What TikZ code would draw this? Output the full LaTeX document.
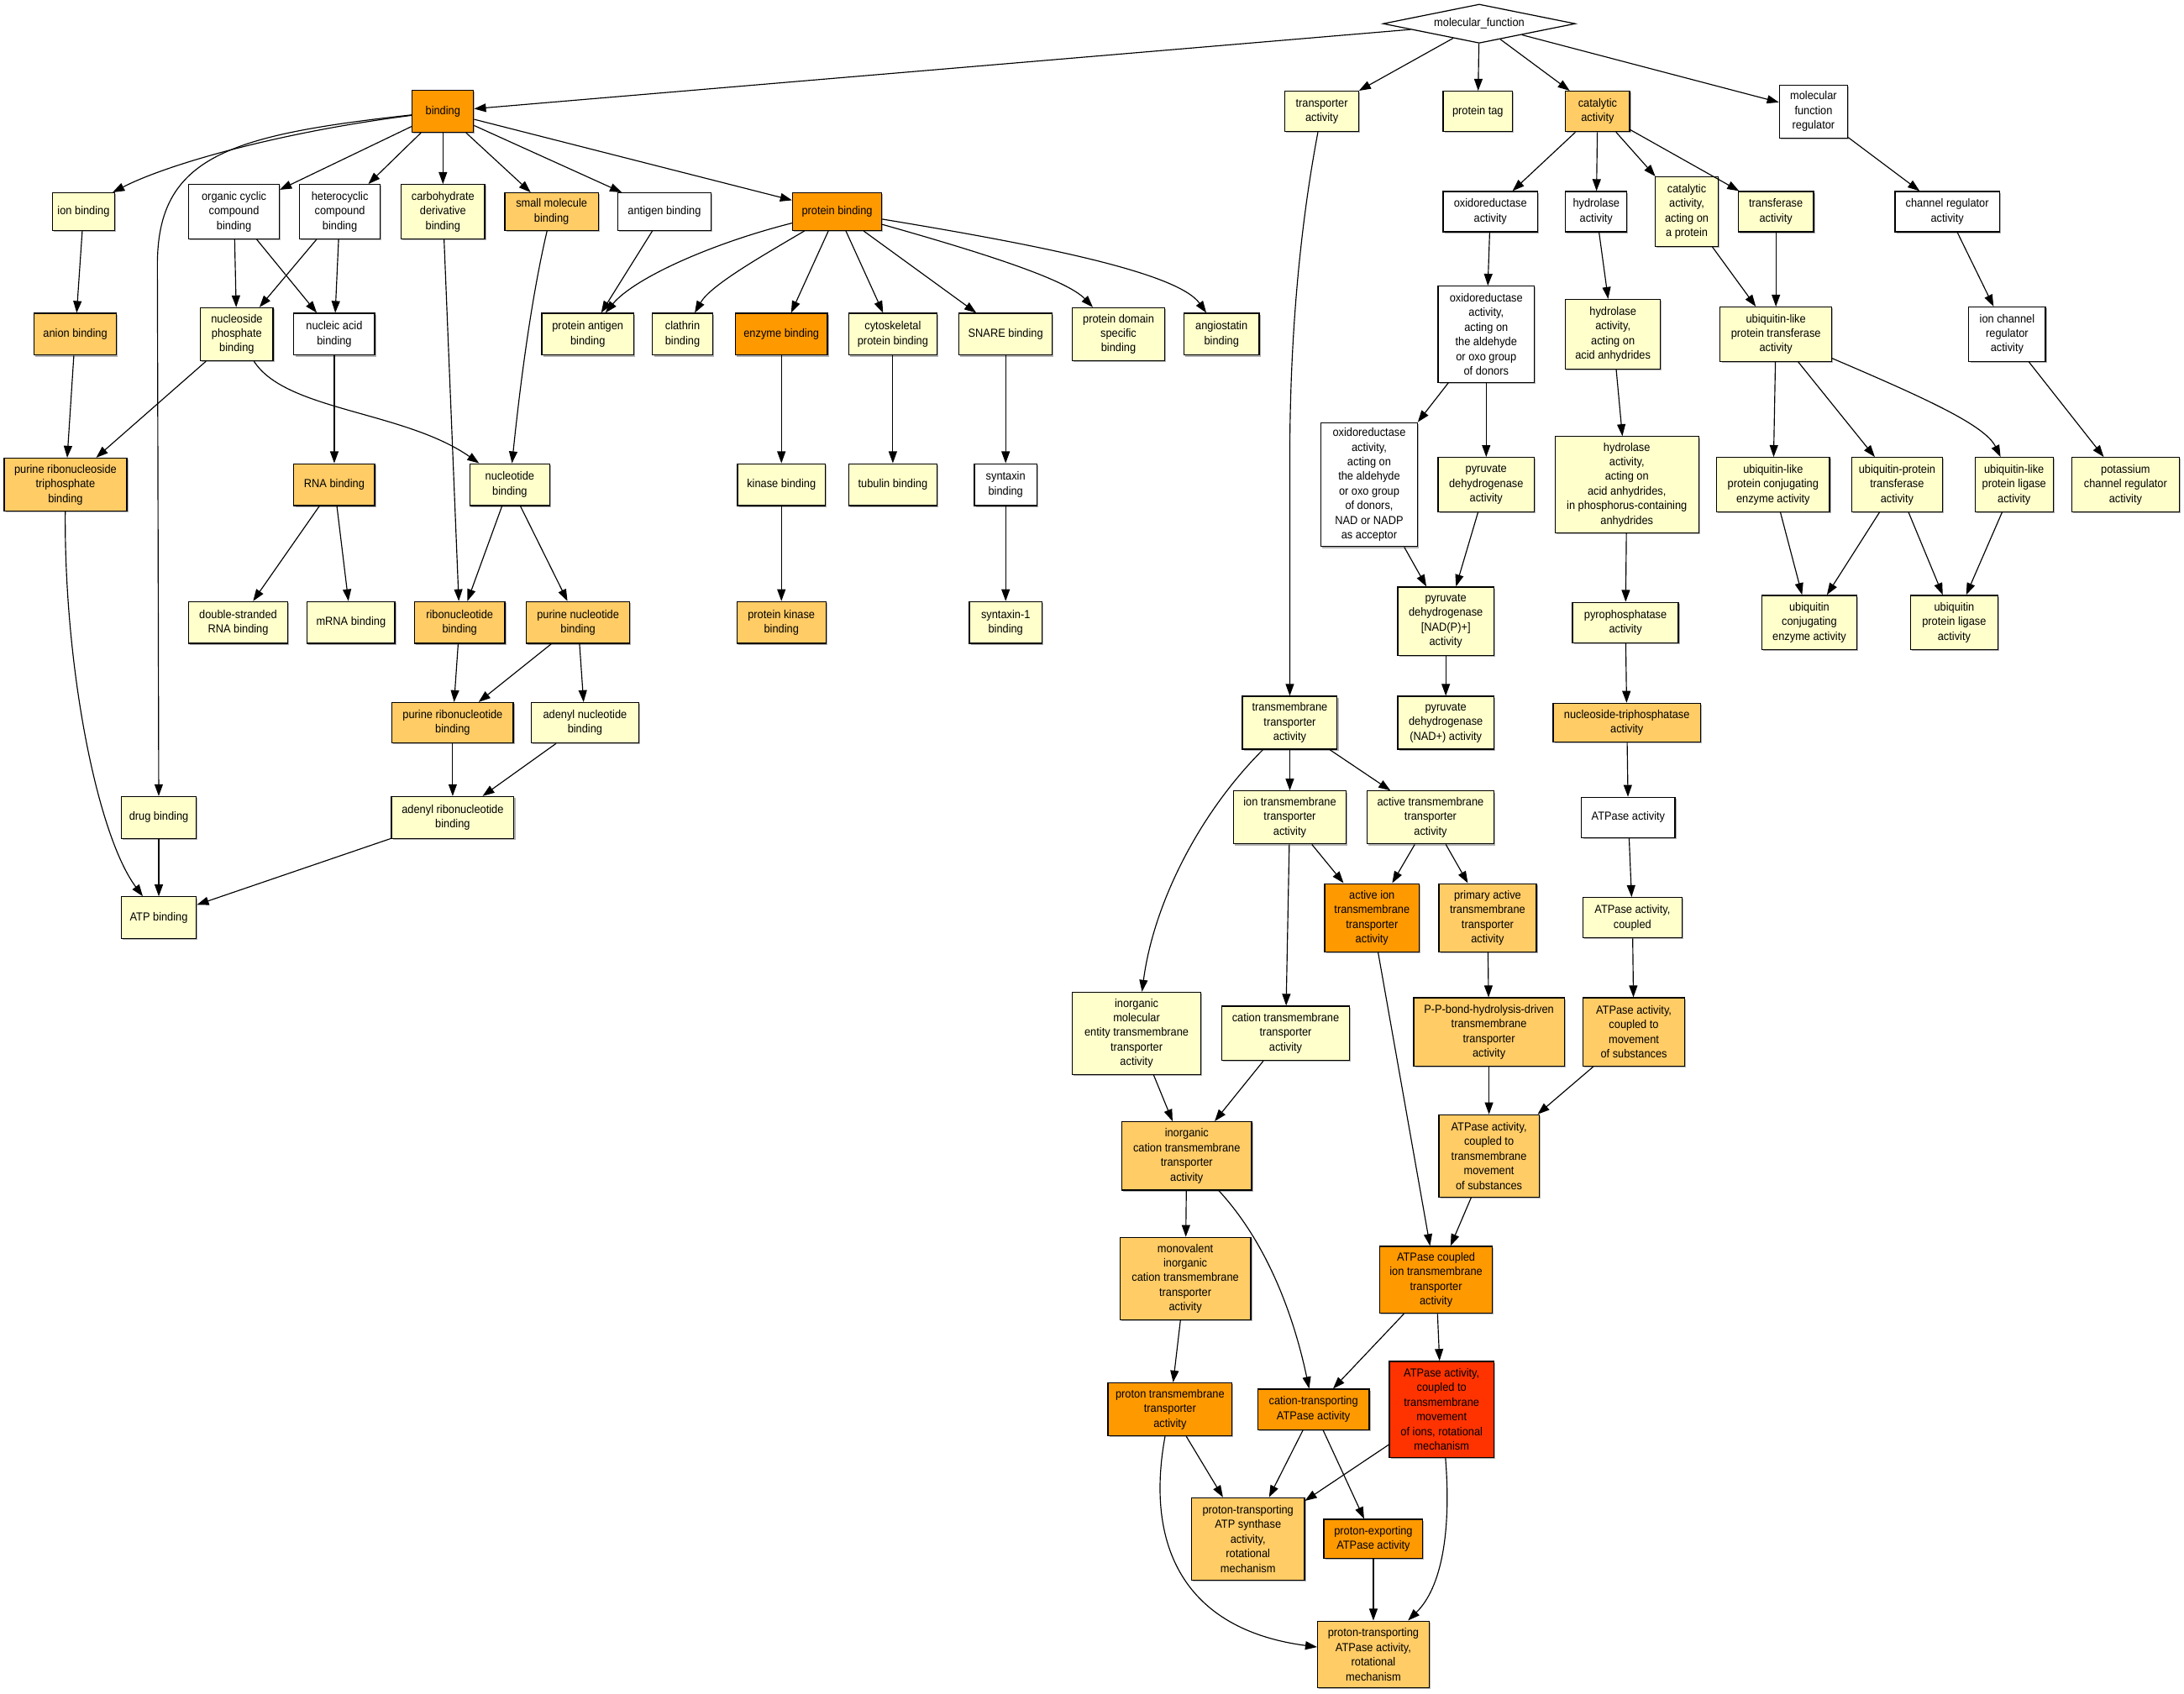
\documentclass[tikz,border=0pt]{standalone}
\usepackage{fontspec}
\setmainfont{Liberation Sans}[FakeStretch=0.92]
\usetikzlibrary{arrows.meta,shapes.geometric,shadows}
\definecolor{goyel}{HTML}{FFFFCC}
\definecolor{golor}{HTML}{FFCC66}
\definecolor{goor}{HTML}{FF9900}
\definecolor{gored}{HTML}{FF3300}
\newcommand\gofont{\fontsize{8.4}{10.5}\selectfont}
\newcommand\gonode[7]{\node[box,fill=#1,minimum width=#2pt,minimum height=#3pt] (#4) at (#5,-#6) {#7};}
\begin{document}
\begin{tikzpicture}[x=1pt,y=1pt,
  box/.style={draw=black,line width=0.75pt,inner sep=0pt,align=center,font=\gofont,
    drop shadow={shadow xshift=1pt,shadow yshift=-1pt,fill=black!30,opacity=1}},
  arr/.style={draw=black,line width=0.7pt,-{Triangle[length=8.5pt,width=6pt]}}]
\useasboundingbox (0,0) rectangle (1568,-1216);
\fill[white] (0,0) rectangle (1568,-1216);

\node[diamond,draw=black,aspect=4.9,minimum width=138pt,minimum height=28pt,inner sep=0pt,font=\gofont,line width=0.75pt,fill=white] (mf) at (1062,-17) {molecular\_function};

% row 1
\gonode{goor}{44}{30}{binding}{318}{80}{binding}
\gonode{goyel}{53}{29}{transp}{949}{80}{transporter\\activity}
\gonode{goyel}{50}{29}{ptag}{1061}{80}{protein tag}
\gonode{golor}{46}{29}{catal}{1147}{80}{catalytic\\activity}
\gonode{white}{49}{38}{mfreg}{1302}{80}{molecular\\function\\regulator}

% binding children
\gonode{goyel}{45}{27}{ionb}{60}{152}{ion binding}
\gonode{white}{65}{39}{orgcyc}{168}{152}{organic cyclic\\compound\\binding}
\gonode{white}{58}{39}{hetcyc}{244}{152}{heterocyclic\\compound\\binding}
\gonode{goyel}{60}{39}{carbo}{318}{152}{carbohydrate\\derivative\\binding}
\gonode{golor}{67}{27}{smallm}{396}{152}{small molecule\\binding}
\gonode{white}{67}{27}{antig}{477}{152}{antigen binding}
\gonode{goor}{64}{27}{protb}{601}{152}{protein binding}

\gonode{golor}{59}{30}{anion}{54}{240}{anion binding}
\gonode{goyel}{52}{38}{nucphos}{170}{240}{nucleoside\\phosphate\\binding}
\gonode{white}{58}{30}{nucac}{240}{240}{nucleic acid\\binding}
\gonode{goyel}{66}{30}{protant}{422}{240}{protein antigen\\binding}
\gonode{goyel}{43}{30}{clath}{490}{240}{clathrin\\binding}
\gonode{goor}{66}{30}{enzym}{561}{240}{enzyme binding}
\gonode{goyel}{63}{30}{cytosk}{641}{240}{cytoskeletal\\protein binding}
\gonode{goyel}{67}{30}{snare}{722}{240}{SNARE binding}
\gonode{goyel}{66}{38}{protdom}{803}{240}{protein domain\\specific\\binding}
\gonode{goyel}{54}{30}{angio}{877}{240}{angiostatin\\binding}

\gonode{golor}{88}{38}{prtp}{47}{348}{purine ribonucleoside\\triphosphate\\binding}
\gonode{golor}{58}{30}{rnab}{240}{348}{RNA binding}
\gonode{goyel}{57}{30}{nucb}{366}{348}{nucleotide\\binding}
\gonode{goyel}{63}{30}{kinb}{561}{348}{kinase binding}
\gonode{goyel}{63}{30}{tubb}{641}{348}{tubulin binding}
\gonode{white}{45}{30}{syntb}{722}{348}{syntaxin\\binding}

\gonode{goyel}{71}{30}{dsrna}{171}{447}{double-stranded\\RNA binding}
\gonode{goyel}{63}{30}{mrna}{252}{447}{mRNA binding}
\gonode{golor}{65}{30}{ribonuc}{330}{447}{ribonucleotide\\binding}
\gonode{golor}{74}{30}{purnuc}{415}{447}{purine nucleotide\\binding}
\gonode{golor}{64}{30}{protkin}{561}{447}{protein kinase\\binding}
\gonode{goyel}{52}{30}{synt1}{722}{447}{syntaxin-1\\binding}

\gonode{golor}{87}{29}{purribo}{325}{519}{purine ribonucleotide\\binding}
\gonode{goyel}{77}{29}{adenuc}{420}{519}{adenyl nucleotide\\binding}
\gonode{goyel}{54}{30}{drugb}{114}{587}{drug binding}
\gonode{goyel}{88}{30}{adenribo}{325}{587}{adenyl ribonucleotide\\binding}
\gonode{goyel}{54}{30}{atpb}{114}{659}{ATP binding}

% right side
\gonode{white}{68}{29}{oxido}{1070}{152}{oxidoreductase\\activity}
\gonode{white}{44}{29}{hydro}{1146}{152}{hydrolase\\activity}
\gonode{goyel}{45}{50}{catprot}{1211}{152}{catalytic\\activity,\\acting on\\a protein}
\gonode{goyel}{54}{29}{transf}{1275}{152}{transferase\\activity}
\gonode{white}{75}{29}{chanreg}{1398}{152}{channel regulator\\activity}

\gonode{white}{69}{69}{oxald}{1067}{240}{oxidoreductase\\activity,\\acting on\\the aldehyde\\or oxo group\\of donors}
\gonode{goyel}{68}{50}{hydanh}{1158}{240}{hydrolase\\activity,\\acting on\\acid anhydrides}
\gonode{goyel}{80}{39}{ubltr}{1275}{240}{ubiquitin-like\\protein transferase\\activity}
\gonode{white}{55}{39}{ionchreg}{1441}{240}{ion channel\\regulator\\activity}

\gonode{white}{69}{89}{nadp}{983}{348}{oxidoreductase\\activity,\\acting on\\the aldehyde\\or oxo group\\of donors,\\NAD or NADP\\as acceptor}
\gonode{goyel}{69}{39}{pdh}{1067}{348}{pyruvate\\dehydrogenase\\activity}
\gonode{goyel}{103}{69}{phosanh}{1168}{348}{hydrolase\\activity,\\acting on\\acid anhydrides,\\in phosphorus-containing\\anhydrides}
\gonode{goyel}{81}{39}{ublconj}{1273}{348}{ubiquitin-like\\protein conjugating\\enzyme activity}
\gonode{goyel}{65}{39}{ubprot}{1362}{348}{ubiquitin-protein\\transferase\\activity}
\gonode{goyel}{56}{39}{ubllig}{1446}{348}{ubiquitin-like\\protein ligase\\activity}
\gonode{goyel}{77}{39}{potas}{1526}{348}{potassium\\channel regulator\\activity}

\gonode{goyel}{69}{49}{pdhnadp}{1038}{446}{pyruvate\\dehydrogenase\\{}[NAD(P)+]\\activity}
\gonode{goyel}{76}{29}{pyroph}{1167}{447}{pyrophosphatase\\activity}
\gonode{goyel}{68}{39}{ubconj}{1299}{447}{ubiquitin\\conjugating\\enzyme activity}
\gonode{goyel}{63}{39}{ublig}{1403}{447}{ubiquitin\\protein ligase\\activity}

\gonode{goyel}{68}{38}{tmta}{926}{519}{transmembrane\\transporter\\activity}
\gonode{goyel}{69}{38}{pdhnad}{1038}{519}{pyruvate\\dehydrogenase\\(NAD+) activity}
\gonode{golor}{106}{28}{ntpase}{1168}{519}{nucleoside-triphosphatase\\activity}

\gonode{goyel}{81}{38}{iontm}{926}{587}{ion transmembrane\\transporter\\activity}
\gonode{goyel}{91}{38}{acttm}{1027}{587}{active transmembrane\\transporter\\activity}
\gonode{white}{67}{29}{atpase}{1169}{587}{ATPase activity}

\gonode{goor}{68}{49}{actiontm}{985}{659}{active ion\\transmembrane\\transporter\\activity}
\gonode{golor}{70}{49}{primact}{1068}{659}{primary active\\transmembrane\\transporter\\activity}
\gonode{goyel}{71}{29}{atpcoup}{1172}{659}{ATPase activity,\\coupled}

\gonode{goyel}{92}{59}{inorgmol}{816}{742}{inorganic\\molecular\\entity transmembrane\\transporter\\activity}
\gonode{goyel}{92}{39}{cationtm}{923}{742}{cation transmembrane\\transporter\\activity}
\gonode{golor}{108}{49}{ppbond}{1069}{741}{P-P-bond-hydrolysis-driven\\transmembrane\\transporter\\activity}
\gonode{golor}{73}{49}{atpmov}{1173}{741}{ATPase activity,\\coupled to\\movement\\of substances}

\gonode{golor}{93}{49}{inorgcat}{852}{830}{inorganic\\cation transmembrane\\transporter\\activity}
\gonode{golor}{72}{59}{atptmmov}{1069}{830}{ATPase activity,\\coupled to\\transmembrane\\movement\\of substances}

\gonode{golor}{94}{59}{monoval}{851}{918}{monovalent\\inorganic\\cation transmembrane\\transporter\\activity}
\gonode{goor}{81}{48}{atpion}{1031}{919}{ATPase coupled\\ion transmembrane\\transporter\\activity}

\gonode{goor}{89}{38}{protontm}{840}{1012}{proton transmembrane\\transporter\\activity}
\gonode{goor}{80}{29}{catatp}{943}{1012}{cation-transporting\\ATPase activity}
\gonode{gored}{75}{69}{rotmech}{1035}{1012}{ATPase activity,\\coupled to\\transmembrane\\movement\\of ions, rotational\\mechanism}

\gonode{golor}{81}{59}{synth}{896}{1105}{proton-transporting\\ATP synthase\\activity,\\rotational\\mechanism}
\gonode{goor}{71}{28}{protexp}{986}{1105}{proton-exporting\\ATPase activity}
\gonode{golor}{80}{48}{ptatp}{986}{1188}{proton-transporting\\ATPase activity,\\rotational\\mechanism}

% edges: left part
\draw[arr] (mf) -- (binding);
\draw[arr] (mf) -- (transp);
\draw[arr] (mf) -- (ptag);
\draw[arr] (mf) -- (catal);
\draw[arr] (mf) -- (mfreg);
\draw[arr] (binding) .. controls (200,-95) and (120,-118) .. ([xshift=-2pt]ionb.north east);
\draw[arr] (binding) .. controls (165,-97) and (113,-112) .. (113,-190) -- (drugb);
\draw[arr] (binding) -- (orgcyc);
\draw[arr] (binding) -- (hetcyc);
\draw[arr] (binding) -- (carbo);
\draw[arr] (binding) -- (smallm);
\draw[arr] (binding) -- (antig);
\draw[arr] (binding) -- (protb);
\draw[arr] (ionb) -- (anion);
\draw[arr] (anion) -- (prtp);
\draw[arr] (orgcyc) -- (nucphos);
\draw[arr] (orgcyc) -- (nucac);
\draw[arr] (hetcyc) -- (nucphos);
\draw[arr] (hetcyc) -- (nucac);
\draw[arr] (carbo) -- (ribonuc);
\draw[arr] (smallm) .. controls (380,-220) and (372,-290) .. (nucb);
\draw[arr] (antig) -- (protant);
\draw[arr] (protb) .. controls (510,-175) and (455,-200) .. (protant);
\draw[arr] (protb) .. controls (545,-185) and (510,-205) .. (clath);
\draw[arr] (protb) -- (enzym);
\draw[arr] (protb) -- (cytosk);
\draw[arr] (protb) -- (snare);
\draw[arr] (protb) .. controls (700,-180) and (765,-200) .. (protdom);
\draw[arr] (protb) .. controls (740,-175) and (845,-195) .. (angio);
\draw[arr] (nucphos) -- (prtp);
\draw[arr] (nucphos) .. controls (205,-295) and (290,-295) .. (nucb);
\draw[arr] (nucac) -- (rnab);
\draw[arr] (rnab) -- (dsrna);
\draw[arr] (rnab) -- (mrna);
\draw[arr] (nucb) -- (ribonuc);
\draw[arr] (nucb) -- (purnuc);
\draw[arr] (ribonuc) -- (purribo);
\draw[arr] (purnuc) -- (purribo);
\draw[arr] (purnuc) -- (adenuc);
\draw[arr] (purribo) -- (adenribo);
\draw[arr] (adenuc) -- (adenribo);
\draw[arr] (adenribo) -- (atpb);
\draw[arr] (drugb) -- (atpb);
\draw[arr] (prtp) .. controls (46,-480) and (70,-600) .. (atpb);
\draw[arr] (enzym) -- (kinb);
\draw[arr] (kinb) -- (protkin);
\draw[arr] (cytosk) -- (tubb);
\draw[arr] (snare) -- (syntb);
\draw[arr] (syntb) -- (synt1);

% edges: right part
\draw[arr] (transp) .. controls (932,-170) and (926,-250) .. (926,-330) -- (tmta);
\draw[arr] (catal) -- (oxido);
\draw[arr] (catal) -- (hydro);
\draw[arr] (catal) -- (catprot);
\draw[arr] (catal) -- (transf);
\draw[arr] (mfreg) -- (chanreg);
\draw[arr] (chanreg) -- (ionchreg);
\draw[arr] (ionchreg) -- (potas);
\draw[arr] (oxido) -- (oxald);
\draw[arr] (oxald) -- (nadp);
\draw[arr] (oxald) -- (pdh);
\draw[arr] (nadp) -- (pdhnadp);
\draw[arr] (pdh) -- (pdhnadp);
\draw[arr] (pdhnadp) -- (pdhnad);
\draw[arr] (hydro) -- (hydanh);
\draw[arr] (hydanh) -- (phosanh);
\draw[arr] (phosanh) -- (pyroph);
\draw[arr] (pyroph) -- (ntpase);
\draw[arr] (ntpase) -- (atpase);
\draw[arr] (atpase) -- (atpcoup);
\draw[arr] (atpcoup) -- (atpmov);
\draw[arr] (atpmov) -- (atptmmov);
\draw[arr] (catprot) -- (ubltr);
\draw[arr] (transf) -- (ubltr);
\draw[arr] (ubltr) -- (ublconj);
\draw[arr] (ubltr) -- (ubprot);
\draw[arr] (ubltr) .. controls (1380,-285) and (1425,-305) .. (ubllig);
\draw[arr] (ublconj) -- (ubconj);
\draw[arr] (ubprot) -- (ubconj);
\draw[arr] (ubprot) -- (ublig);
\draw[arr] (ubllig) -- (ublig);
\draw[arr] (tmta) -- (iontm);
\draw[arr] (tmta) -- (acttm);
\draw[arr] (tmta) .. controls (860,-585) and (828,-650) .. (inorgmol);
\draw[arr] (iontm) -- (actiontm);
\draw[arr] (iontm) -- (cationtm);
\draw[arr] (acttm) -- (actiontm);
\draw[arr] (acttm) -- (primact);
\draw[arr] (primact) -- (ppbond);
\draw[arr] (ppbond) -- (atptmmov);
\draw[arr] (actiontm) -- (atpion);
\draw[arr] (atptmmov) -- (atpion);
\draw[arr] (inorgmol) -- (inorgcat);
\draw[arr] (cationtm) -- (inorgcat);
\draw[arr] (inorgcat) -- (monoval);
\draw[arr] (inorgcat) .. controls (912,-895) and (930,-950) .. (catatp);
\draw[arr] (monoval) -- (protontm);
\draw[arr] (atpion) -- (catatp);
\draw[arr] (atpion) -- (rotmech);
\draw[arr] (protontm) -- (synth);
\draw[arr] (protontm) .. controls (822,-1110) and (850,-1170) .. (ptatp);
\draw[arr] (catatp) -- (synth);
\draw[arr] (catatp) -- (protexp);
\draw[arr] (rotmech) -- (synth);
\draw[arr] (rotmech) .. controls (1042,-1100) and (1035,-1140) .. (ptatp);
\draw[arr] (protexp) -- (ptatp);
\end{tikzpicture}
\end{document}
